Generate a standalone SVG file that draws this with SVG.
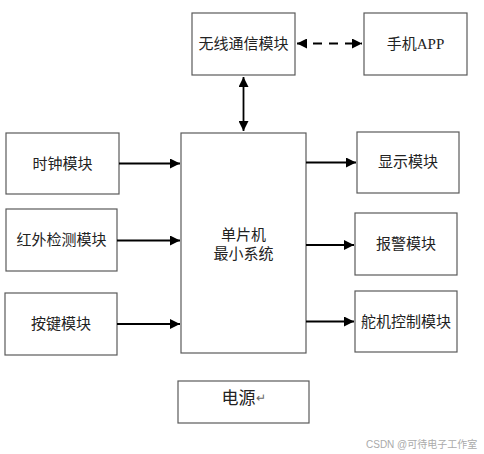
<svg xmlns="http://www.w3.org/2000/svg" width="484" height="454" viewBox="0 0 484 454">
<style>
.box{fill:#fff;stroke:#5a5a5a;stroke-width:1.2}
.t{font-family:"Liberation Serif","Noto Sans CJK SC",serif;font-size:15px;fill:#222;text-anchor:middle;dominant-baseline:central}
.c{stroke:#000;stroke-width:1.8;fill:none}
.wm{font-family:"Liberation Sans","Noto Sans CJK SC",sans-serif;font-size:10px;fill:#aaa}
</style>
<defs>
<marker id="ah" viewBox="0 0 10 10" refX="10" refY="5" markerWidth="10" markerHeight="10" markerUnits="userSpaceOnUse" orient="auto-start-reverse">
<path d="M0,0 L10,5 L0,10 Z" fill="#000"/>
</marker>
</defs>
<rect width="484" height="454" fill="#fff"/>
<g id="wireless"><rect class="box" x="192" y="13" width="103" height="62"/><text class="t" x="243.5" y="44">无线通信模块</text></g>
<g id="app"><rect class="box" x="364" y="13" width="103" height="62"/><text class="t" x="415.5" y="44">手机APP</text></g>
<g id="mcu"><rect class="box" x="181" y="133" width="125" height="220"/><text class="t" x="243.5" y="235">单片机</text><text class="t" x="243.5" y="254">最小系统</text></g>
<g id="clock"><rect class="box" x="6" y="133" width="113" height="61"/><text class="t" x="62.5" y="163.5">时钟模块</text></g>
<g id="ir"><rect class="box" x="6" y="209" width="111" height="62"/><text class="t" x="61.5" y="240">红外检测模块</text></g>
<g id="key"><rect class="box" x="5" y="293" width="112" height="62"/><text class="t" x="61" y="324">按键模块</text></g>
<g id="display"><rect class="box" x="357" y="132" width="102" height="61"/><text class="t" x="408" y="162">显示模块</text></g>
<g id="alarm"><rect class="box" x="355" y="213" width="102" height="62"/><text class="t" x="406" y="244">报警模块</text></g>
<g id="servo"><rect class="box" x="355" y="291" width="102" height="61"/><text class="t" x="406" y="321.5">舵机控制模块</text></g>
<g id="power"><rect class="box" x="178" y="381" width="131" height="42"/><text class="t" x="243.5" y="398" style="font-size:17px">电源<tspan style="font-size:12px;fill:#666">↵</tspan></text></g>
<g id="connectors">
<line class="c" x1="297" y1="43.5" x2="362" y2="43.5" stroke-dasharray="9,7" marker-start="url(#ah)" marker-end="url(#ah)"/>
<line class="c" x1="243.5" y1="77" x2="243.5" y2="131" marker-start="url(#ah)" marker-end="url(#ah)"/>
<line class="c" x1="119" y1="163.5" x2="180" y2="163.5" marker-end="url(#ah)"/>
<line class="c" x1="117" y1="240.5" x2="180" y2="240.5" marker-end="url(#ah)"/>
<line class="c" x1="117" y1="324" x2="180" y2="324" marker-end="url(#ah)"/>
<line class="c" x1="306" y1="162.5" x2="356" y2="162.5" marker-end="url(#ah)"/>
<line class="c" x1="306" y1="245" x2="354" y2="245" marker-end="url(#ah)"/>
<line class="c" x1="306" y1="321.5" x2="354" y2="321.5" marker-end="url(#ah)"/>
</g>
<text class="wm" x="366" y="448">CSDN @可待电子工作室</text>
</svg>
